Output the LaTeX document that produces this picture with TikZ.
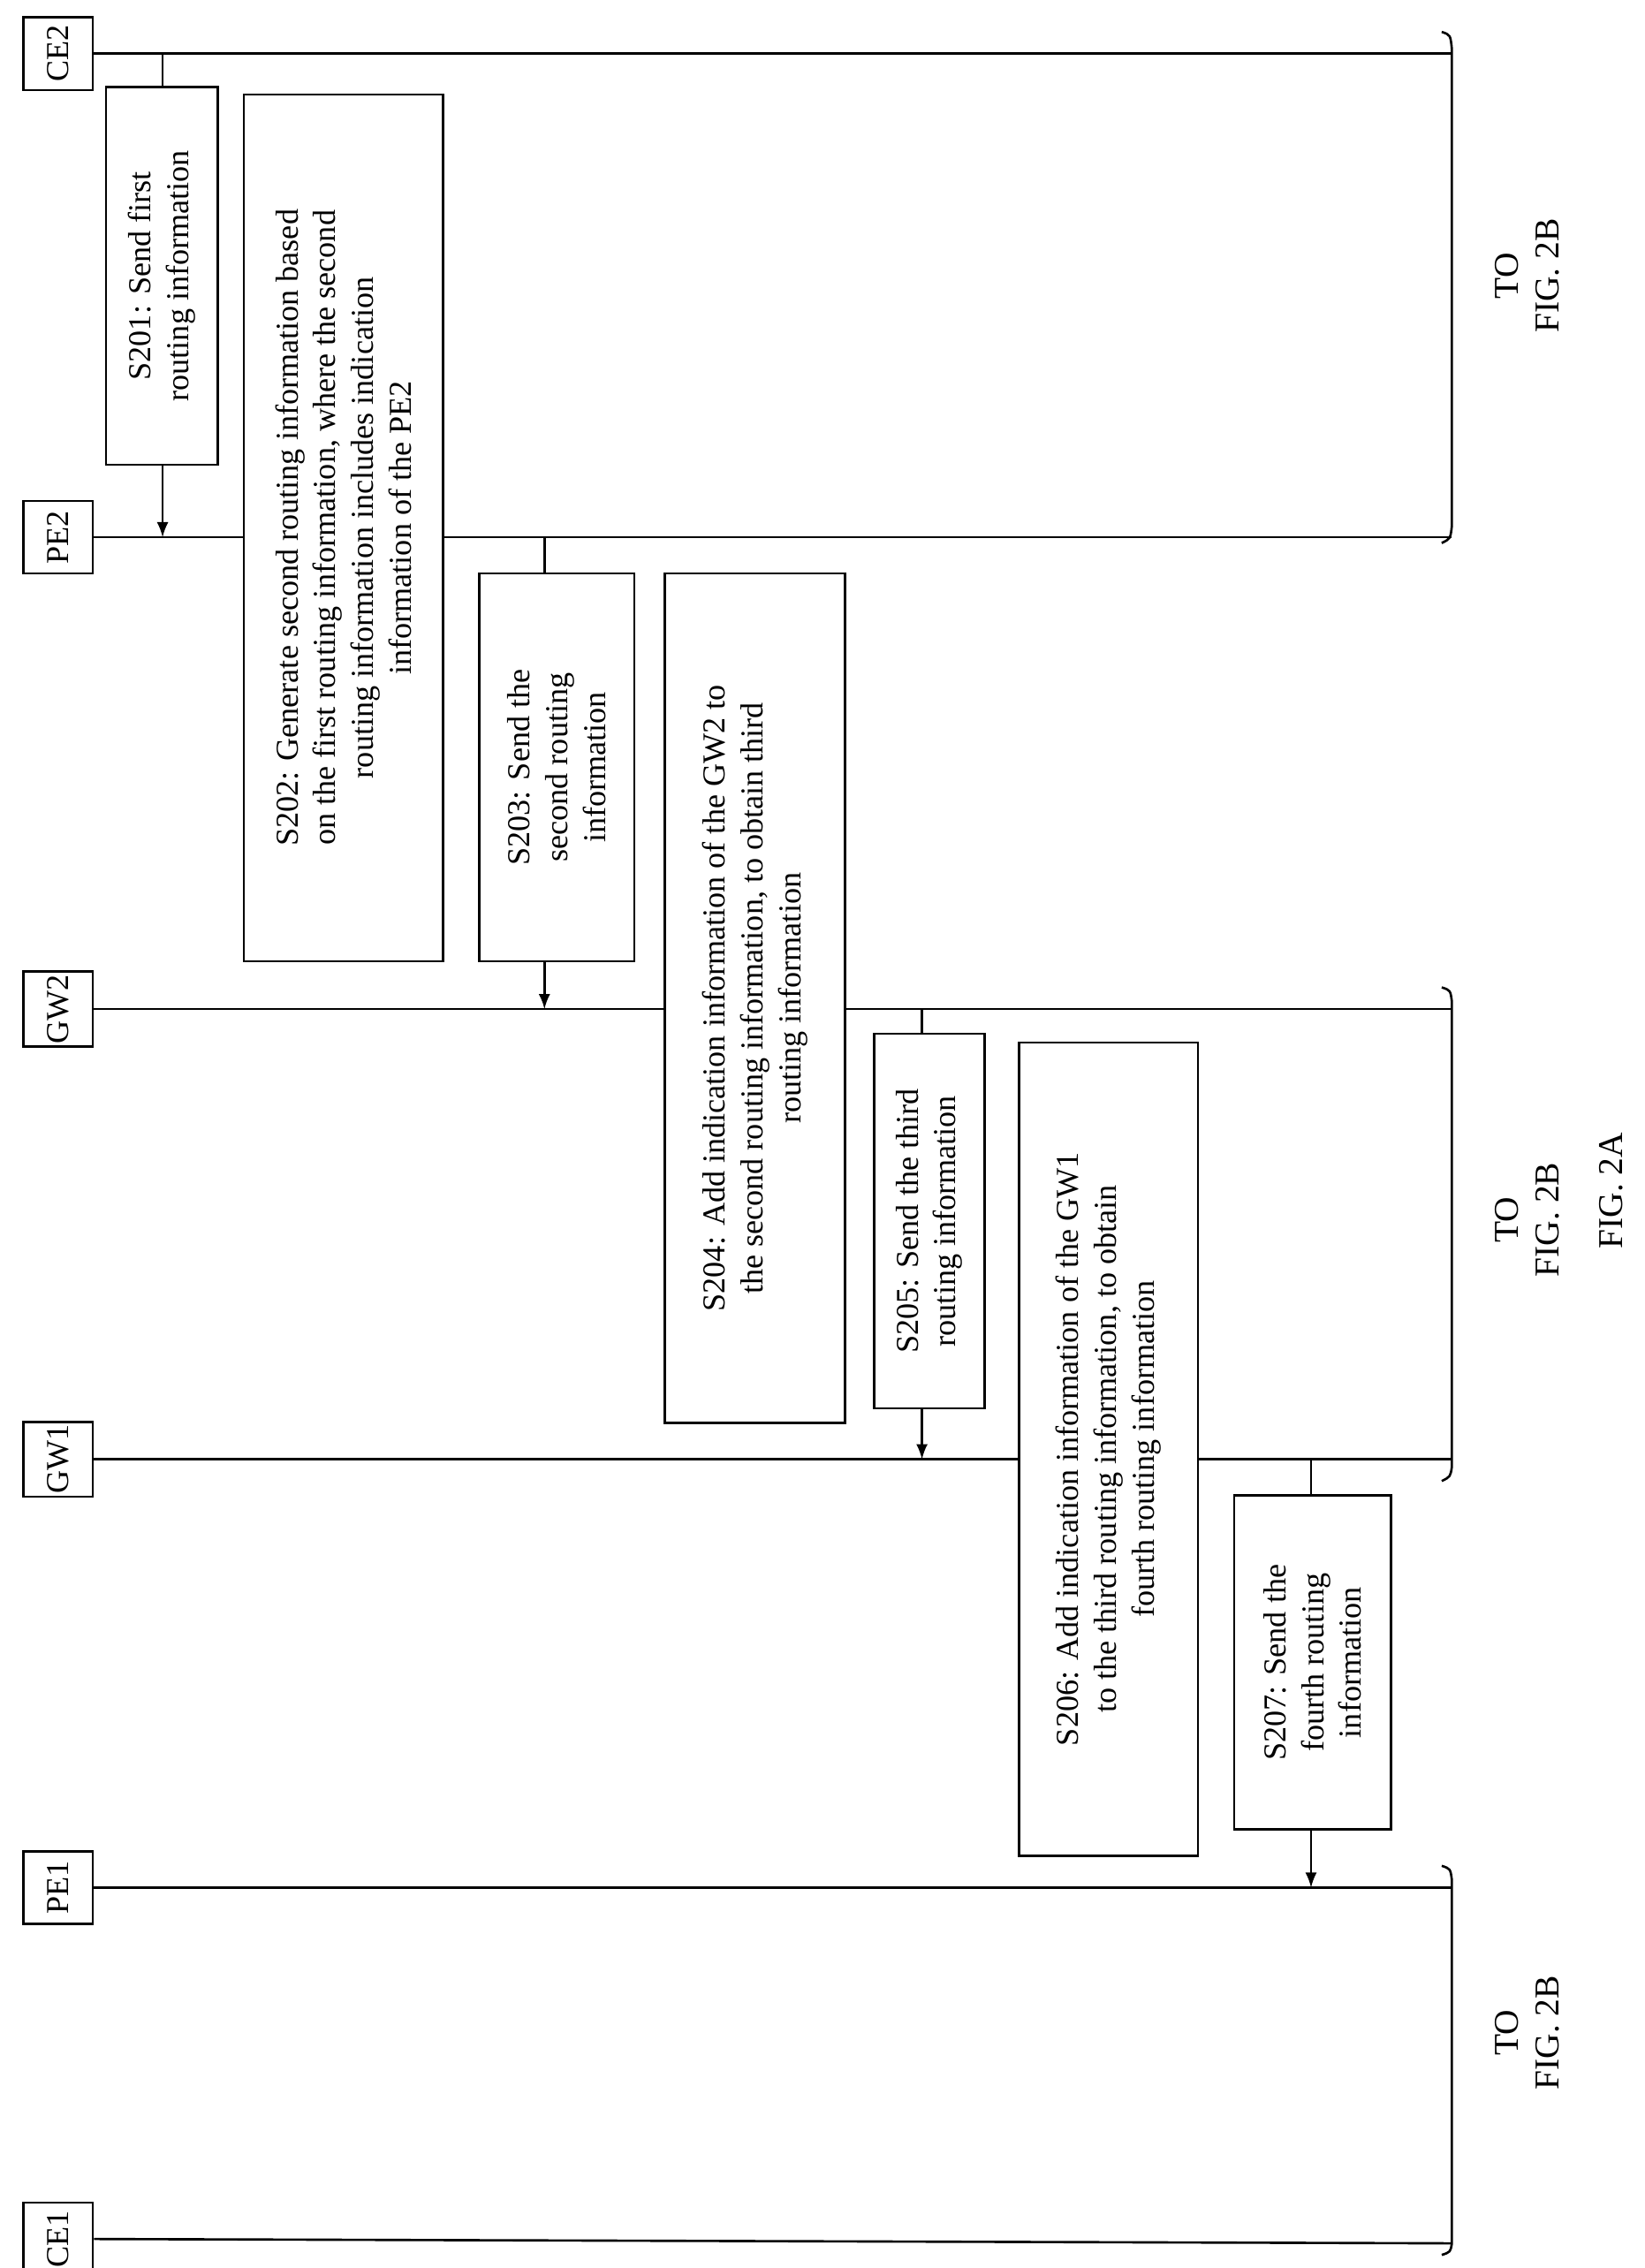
\documentclass[tikz,border=0pt]{standalone}
\usepackage{fontspec}
\setmainfont{Liberation Serif}
\begin{document}
\begin{tikzpicture}[x=0.5pt,y=-0.5pt,
 act/.style={draw,line width=0.8pt,fill=white,rotate=90,minimum width=25pt,minimum height=24pt,inner sep=1pt,font=\fontsize{11}{13}\selectfont},
 st/.style={draw,line width=0.8pt,fill=white,rotate=90,align=center,inner sep=2pt,font=\fontsize{11}{13}\selectfont},
 ln/.style={line width=0.8pt},
 ar/.style={line width=0.8pt,-latex},
 lbl/.style={rotate=90,align=center,font=\fontsize{12}{14}\selectfont}]
\useasboundingbox (0,0) rectangle (1133,1562);
% lifelines
\coordinate (ce2e) at (1000,37);
\coordinate (pe2e) at (1000,370);
\coordinate (gw2e) at (1000,695);
\coordinate (gw1e) at (1000,1005);
\coordinate (pe1e) at (1000,1300);
\coordinate (ce1e) at (1000,1545);
\node[act] (CE2) at (40,37) {CE2};
\node[act] (PE2) at (40,370) {PE2};
\node[act] (GW2) at (40,695) {GW2};
\node[act] (GW1) at (40,1005) {GW1};
\node[act] (PE1) at (40,1300) {PE1};
\node[act] (CE1) at (40,1542) {CE1};
\foreach \a/\e in {CE2/ce2e,PE2/pe2e,GW2/gw2e,GW1/gw1e,PE1/pe1e,CE1/ce1e}
  \draw[ln] (\a.south) -- (\e);
% brackets
\draw[ln] (993,22) .. controls (999,24) .. (1000,34) -- (1000,362) .. controls (999,371) .. (993,374);
\draw[ln] (993,680) .. controls (999,682) .. (1000,690) -- (1000,1010) .. controls (999,1017) .. (993,1020);
\draw[ln] (993,1285) .. controls (999,1287) .. (1000,1295) -- (1000,1545) .. controls (999,1551) .. (993,1553);
\node[lbl] (t1) at (1052,190) {TO\\FIG. 2B};
\node[lbl] (t2) at (1052,840) {TO\\FIG. 2B};
\node[lbl] (t3) at (1052,1400) {TO\\FIG. 2B};
\node[lbl] (f) at (1110,820) {FIG. 2A};
% steps
\coordinate (a1) at (112,37); \coordinate (b1) at (112,370);
\draw[ar] (a1) -- (b1);
\node[st,minimum width=130pt,minimum height=38.5pt] (s201) at (111.5,190) {S201: Send first\\routing information};
\node[st,minimum width=298.5pt,minimum height=68.5pt] (s202) at (236.5,363.5) {S202: Generate second routing information based\\on the first routing information, where the second\\routing information includes indication\\information of the PE2};
\coordinate (a3) at (375,370); \coordinate (b3) at (375,695);
\draw[ar] (a3) -- (b3);
\node[st,minimum width=133.5pt,minimum height=53.5pt] (s203) at (383.5,528.5) {S203: Send the\\second routing\\information};
\node[st,minimum width=292.5pt,minimum height=62pt] (s204) at (520,687.5) {S204: Add indication information of the GW2 to\\the second routing information, to obtain third\\routing information};
\coordinate (a5) at (635,695); \coordinate (b5) at (635,1005);
\draw[ar] (a5) -- (b5);
\node[st,minimum width=129pt,minimum height=38pt] (s205) at (640,841) {S205: Send the third\\routing information};
\node[st,minimum width=280pt,minimum height=61.5pt] (s206) at (763.5,998) {S206: Add indication information of the GW1\\to the third routing information, to obtain\\fourth routing information};
\coordinate (a7) at (903,1005); \coordinate (b7) at (903,1300);
\draw[ar] (a7) -- (b7);
\node[st,minimum width=115pt,minimum height=54pt] (s207) at (904,1145) {S207: Send the\\fourth routing\\information};
\end{tikzpicture}
\end{document}
